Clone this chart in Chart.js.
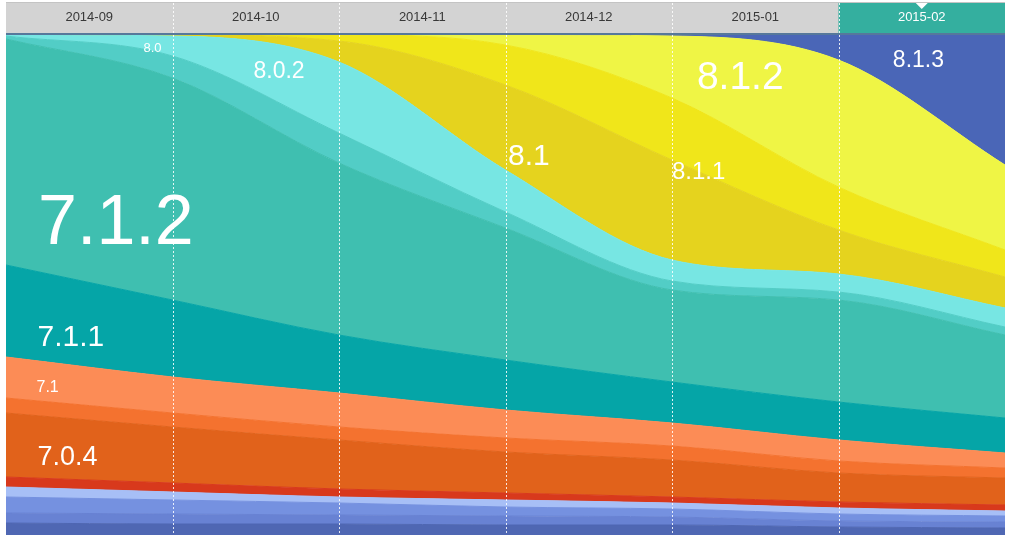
<!DOCTYPE html>
<html>
<head>
<meta charset="utf-8">
<title>iOS version share</title>
<script src="https://cdn.jsdelivr.net/npm/chart.js@4.4.1/dist/chart.umd.min.js"></script>
<style>
  html, body { margin: 0; padding: 0; background: #fff; }
  #wrap { width: 1010px; height: 539px; }
</style>
</head>
<body>
<div id="wrap"><canvas id="versionChart" width="1010" height="539"></canvas></div>
<script>
// month columns in the header, data sampled at the start of each month (0..6)
const months = ['2014-09', '2014-10', '2014-11', '2014-12', '2015-01', '2015-02'];
const samplePoints = [0, 1, 2, 3, 4, 5, 6];

// share in %, bottom of the stack first
const older   = [2.4, 2.2, 2.2, 2.0, 2.0, 1.6, 1.4];
const v6_1_3  = [2.0, 2.0, 1.8, 1.8, 1.6, 1.2, 1.2];
const v6_1_4  = [3.2, 2.8, 2.4, 1.8, 1.6, 1.4, 1.2];
const v6_1_6  = [2.0, 1.6, 1.2, 1.4, 1.2, 1.2, 1.0];
const v7_0_3  = [2.0, 1.8, 1.6, 1.4, 1.2, 1.2, 1.2];
const v7_0_4  = [12.8, 11.2, 9.8, 8.2, 7.4, 5.8, 5.4];
const v7_0_6  = [3.0, 2.8, 2.6, 2.8, 2.8, 2.4, 2.0];
const v7_1    = [8.2, 7.2, 6.8, 5.6, 4.6, 4.2, 3.0];
const v7_1_1  = [18.4, 15.4, 11.6, 10.0, 8.2, 7.6, 7.0];
const v7_1_2  = [45.2, 44.4, 34.4, 26.4, 18.4, 20.4, 16.6];
const v8_0    = [0.6, 4.4, 6.0, 3.2, 1.8, 1.6, 1.6];
const v8_0_2  = [0.2, 4.0, 14.2, 8.4, 4.2, 3.6, 3.8];
const v8_1    = [0, 0.2, 4.2, 17.0, 20.0, 8.8, 6.2];
const v8_1_1  = [0, 0, 1.2, 8.0, 12.4, 8.6, 5.4];
const v8_1_2  = [0, 0, 0, 2.0, 12.4, 25.4, 17.0];
const v8_1_3  = [0, 0, 0, 0, 0.2, 5.0, 26.0];

const seriesNames = ['Older', '6.1.3', '6.1.4', '6.1.6', '7.0.3', '7.0.4', '7.0.6', '7.1', '7.1.1', '7.1.2',
                     '8.0', '8.0.2', '8.1', '8.1.1', '8.1.2', '8.1.3'];
const seriesValues = [older, v6_1_3, v6_1_4, v6_1_6, v7_0_3, v7_0_4, v7_0_6, v7_1, v7_1_1, v7_1_2,
                      v8_0, v8_0_2, v8_1, v8_1_1, v8_1_2, v8_1_3];
const seriesColors = ['#4f67b3', '#6882d3', '#7591e0', '#a7bff6', '#d8391c', '#e1621b', '#f4722f', '#fc8c56',
                      '#05a5a7', '#3fbfb0', '#52cdc6', '#77e6e3', '#e5d31e', '#f0e61a', '#eff545', '#4a66b7'];

// text labels sitting inside the bands (month position, % height, font px)
const bandLabels = [
  { text: '8.0',   at: 0.88, level: 97.4, size: 13 },
  { text: '8.0.2', at: 1.64, level: 92.6, size: 23 },
  { text: '7.1.2', at: 0.66, level: 62.0, size: 70 },
  { text: '7.1.1', at: 0.39, level: 39.4, size: 30 },
  { text: '7.1',   at: 0.25, level: 29.4, size: 16 },
  { text: '7.0.4', at: 0.37, level: 15.4, size: 27 },
  { text: '8.1',   at: 3.14, level: 75.6, size: 30 },
  { text: '8.1.1', at: 4.16, level: 72.6, size: 24 },
  { text: '8.1.2', at: 4.41, level: 91.4, size: 39 },
  { text: '8.1.3', at: 5.48, level: 94.8, size: 23 }
];

const FONT = "'Liberation Sans', Arial, sans-serif";

function buildDatasets() {
  let sets = [];
  for (let i = 0; i < seriesValues.length; i++) {
    sets.push({
      label: seriesNames[i],
      data: samplePoints.map((p, j) => ({ x: p, y: seriesValues[i][j] })),
      backgroundColor: seriesColors[i],
      borderColor: seriesColors[i],
      borderWidth: 1,
      fill: i == 0 ? 'origin' : '-1',
      pointRadius: 0,
      cubicInterpolationMode: 'monotone'
    });
  }
  return sets;
}

// grey month bar on top, last month highlighted
const headerBar = {
  id: 'headerBar',
  beforeDraw(chart) {
    const ctx = chart.ctx;
    const x = chart.scales.x;
    const top = 3;
    const bottom = chart.chartArea.top - 2;
    ctx.save();
    ctx.fillStyle = '#c4c4c4';
    ctx.fillRect(x.left, top - 1, x.right - x.left, 1);
    ctx.fillStyle = '#d3d3d3';
    ctx.fillRect(x.left, top, x.right - x.left, bottom - top);
    let h0 = x.getPixelForValue(5), h1 = x.getPixelForValue(6);
    ctx.fillStyle = '#34af9f';
    ctx.fillRect(h0, top, h1 - h0, bottom - top);
    let mid = (h0 + h1) / 2;
    ctx.fillStyle = '#fff';
    ctx.beginPath();
    ctx.moveTo(mid - 6, top);
    ctx.lineTo(mid + 6, top);
    ctx.lineTo(mid, top + 6);
    ctx.closePath();
    ctx.fill();
    ctx.fillStyle = '#56789b';
    ctx.fillRect(x.left, bottom, x.right - x.left, 2);
    ctx.restore();
  }
};

// dotted month separators + band names
const overlay = {
  id: 'overlay',
  afterDatasetsDraw(chart) {
    const ctx = chart.ctx;
    const x = chart.scales.x, y = chart.scales.y;
    ctx.save();
    ctx.strokeStyle = 'rgba(255,255,255,0.85)';
    ctx.lineWidth = 1;
    ctx.setLineDash([2, 2]);
    for (let i = 1; i < months.length; i++) {
      let px = Math.round(x.getPixelForValue(i)) + 0.5;
      ctx.beginPath();
      ctx.moveTo(px, 3);
      ctx.lineTo(px, chart.chartArea.bottom);
      ctx.stroke();
    }
    ctx.setLineDash([]);
    ctx.fillStyle = '#fff';
    ctx.textAlign = 'center';
    ctx.textBaseline = 'middle';
    bandLabels.forEach(l => {
      ctx.font = l.size + 'px ' + FONT;
      ctx.fillText(l.text, x.getPixelForValue(l.at), y.getPixelForValue(l.level));
    });
    ctx.restore();
  }
};

new Chart(document.getElementById('versionChart'), {
  type: 'line',
  data: { datasets: buildDatasets() },
  options: {
    responsive: false,
    animation: false,
    layout: { padding: { left: 6, right: 5, top: 3, bottom: 4 } },
    plugins: { legend: { display: false }, tooltip: { enabled: false } },
    scales: {
      x: {
        type: 'linear',
        position: 'top',
        min: 0,
        max: 6,
        grid: { display: false, drawTicks: false },
        border: { display: false },
        afterBuildTicks: s => { s.ticks = months.map((m, i) => ({ value: i + 0.5 })); },
        afterFit: s => { s.height = 32; },
        ticks: {
          padding: 10,
          autoSkip: false,
          maxRotation: 0,
          color: c => c.index == months.length - 1 ? '#ffffff' : '#383838',
          font: { family: FONT, size: 13 },
          callback: (v, i) => months[i]
        }
      },
      y: { stacked: true, min: 0, max: 100, display: false }
    }
  },
  plugins: [headerBar, overlay]
});
</script>
</body>
</html>
